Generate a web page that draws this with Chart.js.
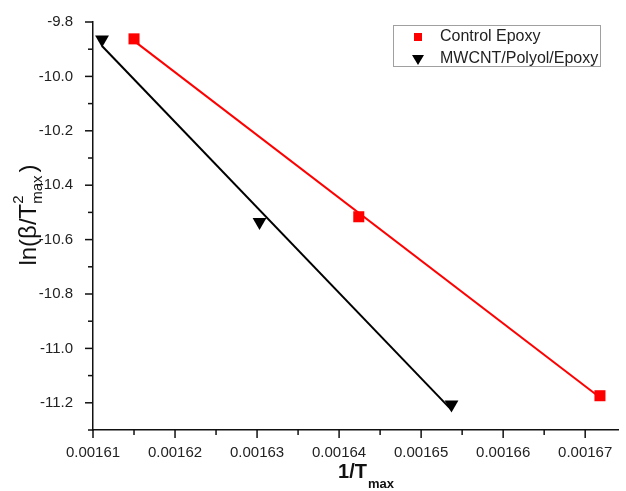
<!DOCTYPE html>
<html>
<head>
<meta charset="utf-8">
<script src="https://cdn.jsdelivr.net/npm/chart.js@4/dist/chart.umd.min.js"></script>
<style>
html,body{margin:0;padding:0;background:#fff;}
#wrap{width:626px;height:491px;position:relative;}
</style>
</head>
<body>
<div id="wrap"><canvas id="c" width="626" height="491"></canvas></div>
<script>
// ---- data ----
const seriesNames = ['Control Epoxy', 'MWCNT/Polyol/Epoxy'];
const controlX = [0.001615, 0.0016424, 0.0016718];
const controlY = [-9.862, -10.516, -11.174];
const mwcntX = [0.0016111, 0.0016303, 0.0016537];
const mwcntY = [-9.864, -10.535, -11.206];
const xTicks = [0.00161, 0.00162, 0.00163, 0.00164, 0.00165, 0.00166, 0.00167];
const yTicks = [-9.8, -10.0, -10.2, -10.4, -10.6, -10.8, -11.0, -11.2];

function pts(xs, ys){ return xs.map((x,i)=>({x:x, y:ys[i]})); }
function fit(xs, ys){
  const n = xs.length;
  const mx = xs.reduce((a,b)=>a+b,0)/n, my = ys.reduce((a,b)=>a+b,0)/n;
  let sxy=0, sxx=0;
  for(let i=0;i<n;i++){ sxy+=(xs[i]-mx)*(ys[i]-my); sxx+=(xs[i]-mx)*(xs[i]-mx); }
  const b = sxy/sxx, a = my - b*mx;
  const x0 = Math.min(...xs), x1 = Math.max(...xs);
  return [{x:x0, y:a+b*x0}, {x:x1, y:a+b*x1}];
}

const FONT = '"Liberation Sans", Arial, sans-serif';

const extras = {
  id: 'extras',
  afterDraw(chart){
    const ctx = chart.ctx;
    const xs = chart.scales.x, ys = chart.scales.y;
    const ca = chart.chartArea;
    ctx.save();
    ctx.strokeStyle = '#111';
    ctx.lineWidth = 1.5;
    // x ticks (major + minor)
    for (let k = 0; ; k++) {
      const v = xs.min + k * 0.000005;
      if (v > xs.max + 1e-12) break;
      const px = xs.getPixelForValue(v);
      const len = (k % 2 === 0) ? 8 : 5;
      ctx.beginPath(); ctx.moveTo(px, ca.bottom); ctx.lineTo(px, ca.bottom + len); ctx.stroke();
    }
    // y ticks
    for (let k = 0; ; k++) {
      const v = ys.max - k * 0.1;
      if (v < ys.min - 1e-9) break;
      const py = ys.getPixelForValue(v);
      const len = (k % 2 === 0) ? 8 : 5;
      ctx.beginPath(); ctx.moveTo(ca.left, py); ctx.lineTo(ca.left - len, py); ctx.stroke();
    }
    // x title: 1/T_max
    ctx.fillStyle = '#111';
    ctx.textBaseline = 'alphabetic';
    ctx.font = 'bold 20px ' + FONT;
    const t1 = '1/T';
    const w1 = ctx.measureText(t1).width;
    ctx.font = 'bold 13px ' + FONT;
    const w2 = ctx.measureText('max').width;
    const cx = (ca.left + ca.right) / 2 + 10;
    let sx = cx - (w1 + w2) / 2;
    ctx.font = 'bold 20px ' + FONT;
    ctx.fillText(t1, sx, 478);
    ctx.font = 'bold 13px ' + FONT;
    ctx.fillText('max', sx + w1 + 1, 488);
    // y title: ln(β/T^2_max)
    ctx.save();
    ctx.translate(36, 215);
    ctx.rotate(-Math.PI / 2);
    ctx.font = '24px ' + FONT;
    const a = 'ln(β/T';
    const wa = ctx.measureText(a).width;
    ctx.font = '15px ' + FONT;
    const wm = ctx.measureText('max').width;
    ctx.font = '24px ' + FONT;
    const wc = ctx.measureText(')').width;
    const total = wa + wm + wc + 3;
    let x0 = -total / 2;
    ctx.fillText(a, x0, 0);
    ctx.font = '15px ' + FONT;
    ctx.fillText('2', x0 + wa, -13);
    ctx.fillText('max', x0 + wa, 6);
    ctx.font = '24px ' + FONT;
    ctx.fillText(')', x0 + wa + wm + 3, 0);
    ctx.restore();
    // legend
    ctx.fillStyle = '#fff';
    ctx.fillRect(393, 25, 207, 41);
    ctx.strokeStyle = '#a0a0a0';
    ctx.lineWidth = 1;
    ctx.strokeRect(393.5, 25.5, 207, 41);
    ctx.fillStyle = 'red';
    ctx.fillRect(414, 33, 8, 8);
    ctx.fillStyle = '#000';
    ctx.beginPath();
    ctx.moveTo(412, 55); ctx.lineTo(424, 55); ctx.lineTo(418, 65); ctx.closePath(); ctx.fill();
    ctx.fillStyle = '#222';
    ctx.font = '16px ' + FONT;
    ctx.textBaseline = 'middle';
    ctx.fillText(seriesNames[0], 440, 37);
    ctx.fillText(seriesNames[1], 440, 59);
    ctx.restore();
  }
};

new Chart(document.getElementById('c'), {
  type: 'scatter',
  data: {
    datasets: [
      { label: seriesNames[0] + ' fit', data: fit(controlX, controlY), showLine: true, borderColor: 'red', borderWidth: 2, pointRadius: 0, fill: false },
      { label: seriesNames[1] + ' fit', data: fit(mwcntX, mwcntY), showLine: true, borderColor: '#000', borderWidth: 2, pointRadius: 0, fill: false },
      { label: seriesNames[0], data: pts(controlX, controlY), showLine: false, pointStyle: 'rect', pointRadius: 7.8, backgroundColor: 'red', borderColor: 'red', borderWidth: 0 },
      { label: seriesNames[1], data: pts(mwcntX, mwcntY), showLine: false, pointStyle: 'triangle', rotation: 180, pointRadius: 8, backgroundColor: '#000', borderColor: '#000', borderWidth: 0 }
    ]
  },
  options: {
    responsive: false,
    animation: false,
    clip: false,
    layout: { padding: { left: 0, right: 4, top: 22, bottom: 0 } },
    plugins: { legend: { display: false }, tooltip: { enabled: false } },
    scales: {
      x: {
        type: 'linear', min: 0.00161, max: 0.001674,
        afterBuildTicks: s => { s.ticks = xTicks.map(v => ({ value: v })); },
        afterFit: s => { s.height = 61; },
        ticks: { callback: v => v.toFixed(5), font: { size: 15, family: FONT }, color: '#222', padding: 6, maxRotation: 0, autoSkip: false },
        grid: { display: false },
        border: { display: true, color: '#111', width: 1.5 }
      },
      y: {
        type: 'linear', min: -11.3, max: -9.8,
        afterBuildTicks: s => { s.ticks = yTicks.map(v => ({ value: v })); },
        afterFit: s => { s.width = 93; },
        ticks: { callback: v => v.toFixed(1), font: { size: 15, family: FONT }, color: '#222', padding: 12, autoSkip: false },
        grid: { display: false },
        border: { display: true, color: '#111', width: 1.5 }
      }
    }
  },
  plugins: [extras]
});
</script>
</body>
</html>
